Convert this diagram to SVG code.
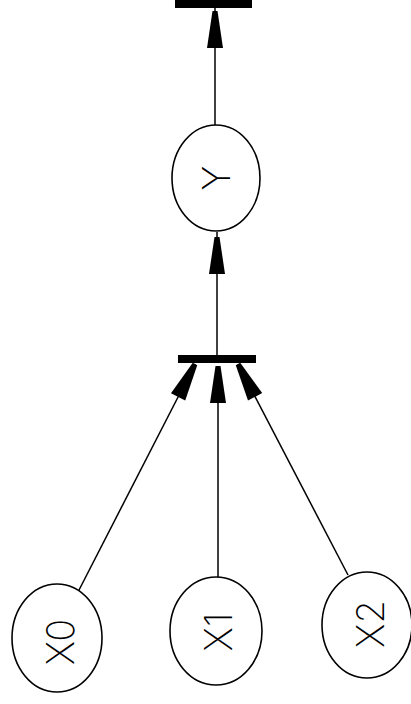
<svg xmlns="http://www.w3.org/2000/svg" width="411" height="704" viewBox="0 0 411 704">
<style>
.node ellipse{fill:#fff;stroke:#000;stroke-width:1.6}
.node text{font-family:Inter,"DejaVu Sans",sans-serif;font-weight:200;font-size:38px;fill:#000;text-anchor:middle}
.bar{fill:#000}
.edge{stroke:#000;stroke-width:1.5;fill:none}
</style>
<defs>
<marker id="ah" markerUnits="userSpaceOnUse" markerWidth="40" markerHeight="20" viewBox="-38 -10 40 20" refX="0" refY="0" orient="auto">
<path d="M0,-2.5 L0,2.5 L-37,8 L-37,-8 Z" fill="#000"/>
</marker>
</defs>
<rect id="top-bar" class="bar" x="175" y="0" width="77" height="8"/>
<rect id="join-bar" class="bar" x="178" y="355" width="78" height="8"/>
<g id="connectors">
<line class="edge" x1="215" y1="125" x2="215" y2="11" marker-end="url(#ah)"/>
<line class="edge" x1="215" y1="8" x2="215" y2="11"/>
<line class="edge" x1="217" y1="355" x2="217" y2="237" marker-end="url(#ah)"/>
<line class="edge" x1="217" y1="232" x2="217" y2="237"/>
<line class="edge" x1="218" y1="577" x2="218" y2="366" marker-end="url(#ah)"/>
<line class="edge" x1="78" y1="592" x2="195" y2="364" marker-end="url(#ah)"/>
<line class="edge" x1="348" y1="575" x2="238" y2="364" marker-end="url(#ah)"/>
</g>
<g id="Y" class="node">
<ellipse cx="216" cy="178" rx="44" ry="53"/>
<text transform="translate(216,178) rotate(-90)" dy="0.36em">Y</text>
</g>
<g id="X0" class="node">
<ellipse cx="57" cy="638" rx="45" ry="54"/>
<text transform="translate(60,642) rotate(-90)" dy="0.36em">X0</text>
</g>
<g id="X1" class="node">
<ellipse cx="216" cy="631" rx="46" ry="54"/>
<text transform="translate(218,632) rotate(-90)" dy="0.36em">X1</text>
</g>
<g id="X2" class="node">
<ellipse cx="367" cy="625" rx="45" ry="53"/>
<text transform="translate(370,624) rotate(-90)" dy="0.36em">X2</text>
</g>
</svg>
